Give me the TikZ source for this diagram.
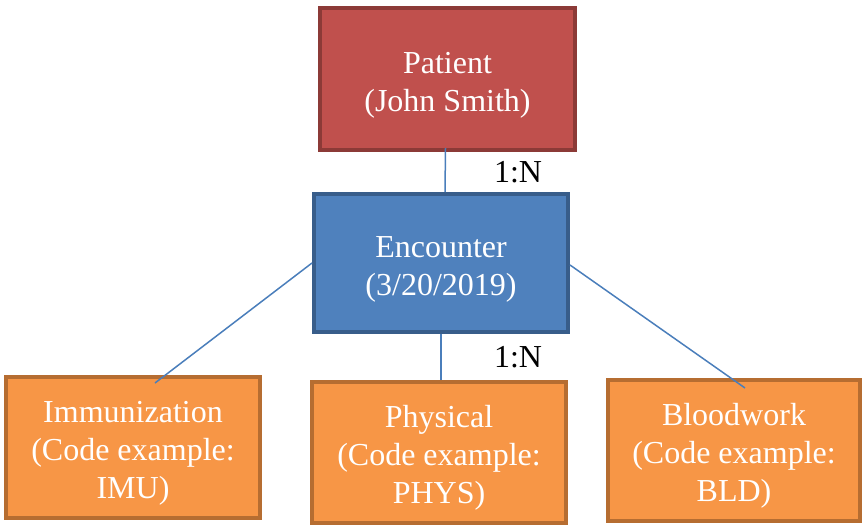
\documentclass[tikz,border=0pt]{standalone}
\usepackage{fontspec}
\setmainfont{Liberation Serif}
\usetikzlibrary{positioning}

\definecolor{patientred}{HTML}{C0504D}
\definecolor{patientedge}{HTML}{8C3A37}
\definecolor{visitblue}{HTML}{4F81BD}
\definecolor{visitedge}{HTML}{385D8A}
\definecolor{itemorange}{HTML}{F79646}
\definecolor{itemedge}{HTML}{B66D31}
\definecolor{linkblue}{HTML}{4A7EBB}

\newcommand{\topgap}{\rule{0pt}{33pt}}

\begin{document}
\begin{tikzpicture}[x=1pt, y=-1pt,
  box/.style={draw, line width=4pt, align=center, text=white,
    font=\fontsize{32}{38}\selectfont, minimum width=254pt, minimum height=141pt},
  link/.style={linkblue, line width=1.5pt},
  card/.style={font=\fontsize{32}{38}\selectfont}]
  \useasboundingbox (0,0) rectangle (864,527);

  % the patient and the visit
  \node[box, fill=patientred, draw=patientedge, minimum width=255pt, minimum height=142pt]
    (patient) at (447.5,79) {\topgap Patient\\(John Smith)};
  \node[box, fill=visitblue, draw=visitedge, minimum height=138pt]
    (encounter) at (441,263) {\topgap Encounter\\(3/20/2019)};

  % what happens at the visit
  \node[box, fill=itemorange, draw=itemedge] (immun) at (133,447.5)
    {\topgap Immunization\\(Code example:\\IMU)};
  \node[box, fill=itemorange, draw=itemedge] (phys) at (439,452.5)
    {\topgap Physical\\(Code example:\\PHYS)};
  \node[box, fill=itemorange, draw=itemedge, minimum width=252pt] (blood) at (734,450.5)
    {\topgap Bloodwork\\(Code example:\\BLD)};

  \draw[link] ([xshift=-2pt,yshift=4pt]patient.south) -- ([xshift=4pt]encounter.north);
  \draw[link] (encounter.west) -- ([xshift=22pt,yshift=-8pt]immun.north);
  \draw[link] (encounter.south) -- ([xshift=2pt]phys.north);
  \draw[link] ([yshift=-2pt]encounter.east) -- ([xshift=11pt,yshift=-10pt]blood.north);

  \node[card] (ratiotop) at (518,172) {1:N};
  \node[card] (ratiobottom) at (518,357) {1:N};
\end{tikzpicture}
\end{document}
